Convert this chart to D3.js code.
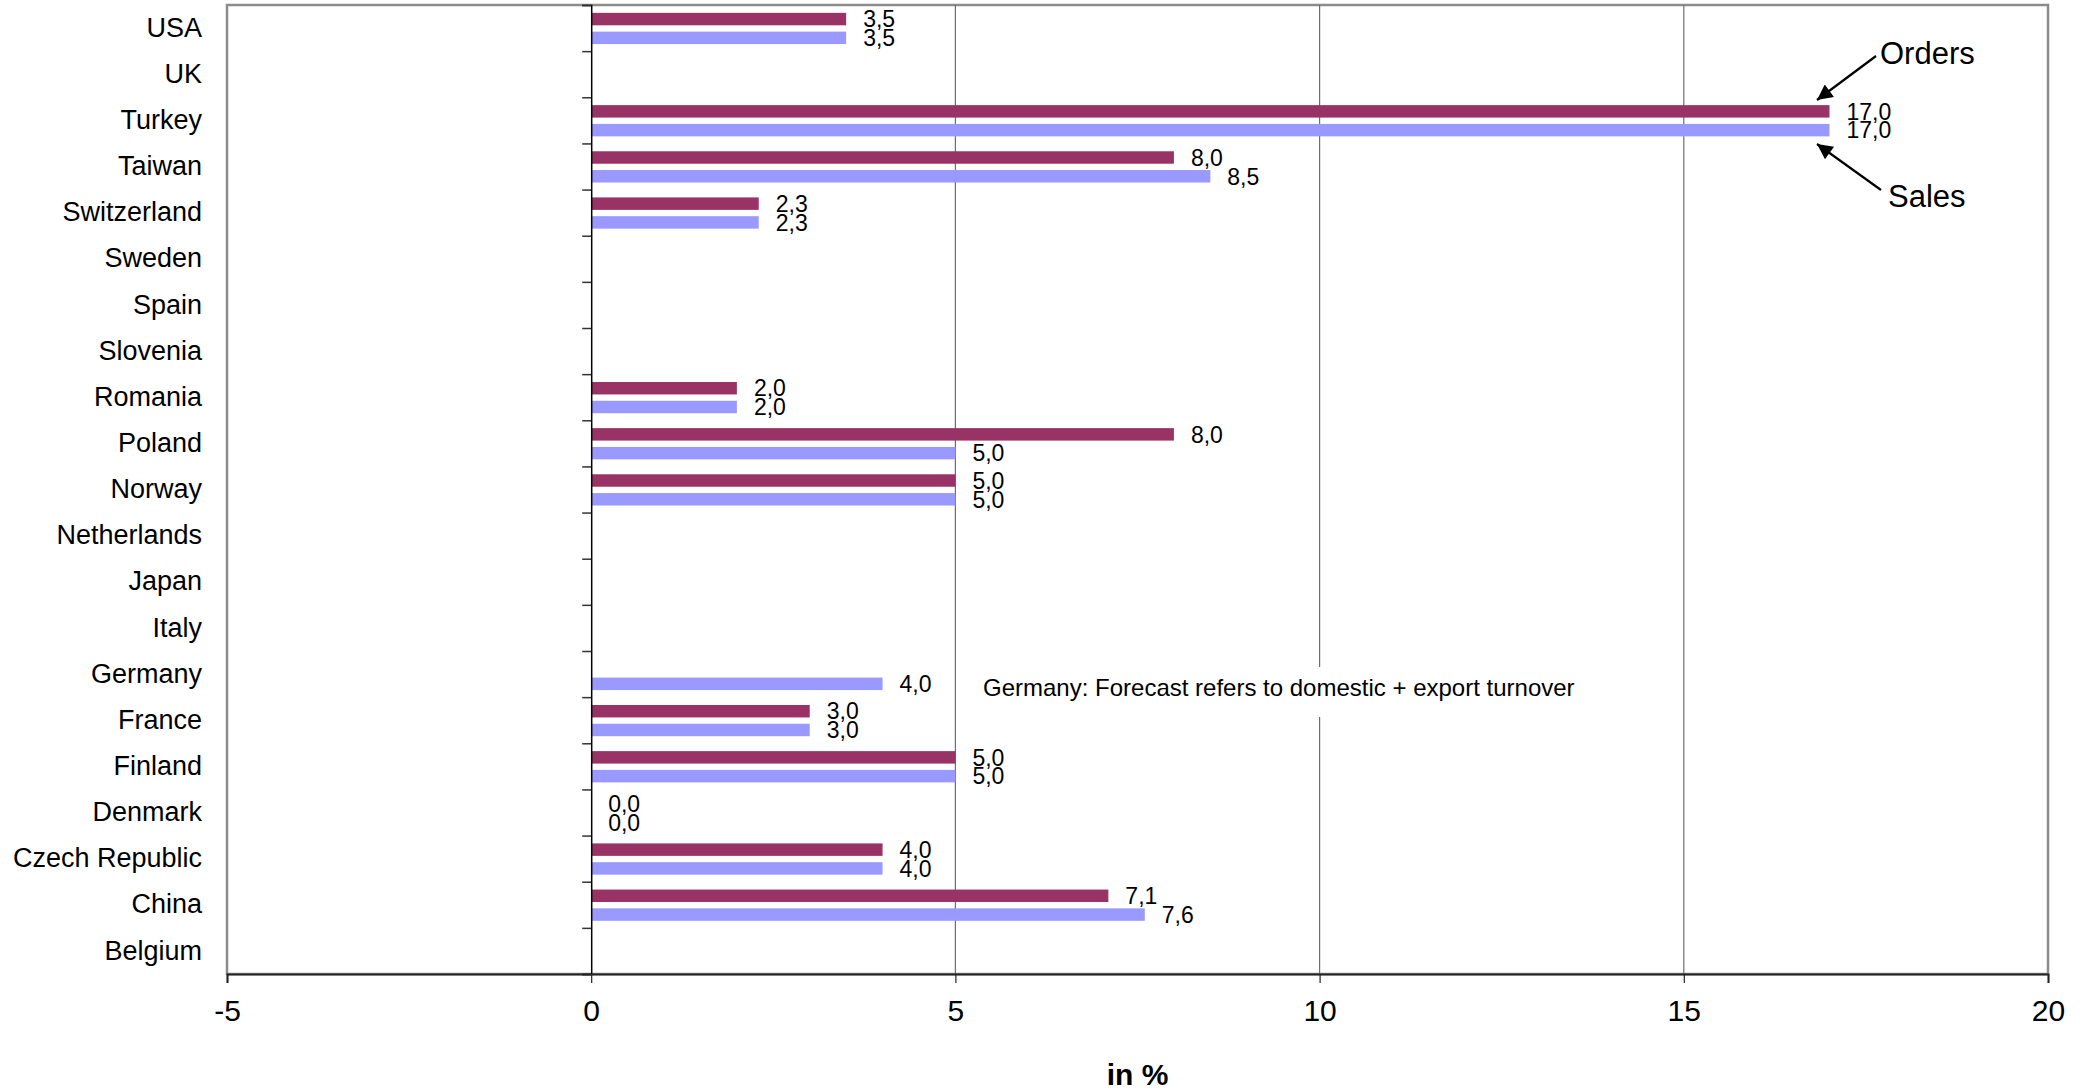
<!DOCTYPE html>
<html>
<head>
<meta charset="utf-8">
<script src="https://cdn.jsdelivr.net/npm/d3@7"></script>
<style>
  html, body { margin: 0; padding: 0; background: #fff; }
  svg { display: block; font-family: "Liberation Sans", Arial, sans-serif; }
</style>
</head>
<body>
<svg id="chart" width="2091" height="1092"></svg>
<script>
// Forecast growth by country, orders vs. sales (in %)
const countries = ["USA", "UK", "Turkey", "Taiwan", "Switzerland", "Sweden", "Spain", "Slovenia",
  "Romania", "Poland", "Norway", "Netherlands", "Japan", "Italy", "Germany", "France",
  "Finland", "Denmark", "Czech Republic", "China", "Belgium"];
const orders = [3.5, null, 17.0, 8.0, 2.3, null, null, null, 2.0, 8.0, 5.0, null, null, null,
  null, 3.0, 5.0, 0.0, 4.0, 7.1, null];
const sales = [3.5, null, 17.0, 8.5, 2.3, null, null, null, 2.0, 5.0, 5.0, null, null, null,
  4.0, 3.0, 5.0, 0.0, 4.0, 7.6, null];
const xTicks = [-5, 0, 5, 10, 15, 20];
const xDomain = [-5, 20];
const axisTitle = "in %";
const note = "Germany: Forecast refers to domestic + export turnover";
const seriesNames = ["Orders", "Sales"];
const colors = { Orders: "#993366", Sales: "#9999FF" };

const svg = d3.select("#chart");
const plot = { left: 227, right: 2048, top: 5, bottom: 974 };

const x = d3.scaleLinear().domain(xDomain).range([plot.left, plot.right]);
const y = d3.scaleBand().domain(countries).range([plot.top, plot.bottom]).padding(0);
const bw = y.bandwidth();
const barH = bw * 0.27;
const offsets = { Orders: bw * 0.17, Sales: bw * 0.577 };

const comma = d3.formatLocale({ decimal: ",", thousands: ".", grouping: [3], currency: ["", ""] }).format(".1f");

// plot frame
svg.append("rect")
  .attr("x", plot.left).attr("y", plot.top)
  .attr("width", plot.right - plot.left).attr("height", plot.bottom - plot.top)
  .attr("fill", "#fff").attr("stroke", "#8c8c8c").attr("stroke-width", 2.5);

// vertical gridlines
svg.append("g").selectAll("line")
  .data(xTicks.filter(t => t !== 0 && t !== xDomain[0] && t !== xDomain[1]))
  .join("line")
  .attr("x1", d => x(d)).attr("x2", d => x(d))
  .attr("y1", plot.top).attr("y2", plot.bottom)
  .attr("stroke", "#6e6e6e").attr("stroke-width", 1.2);

// note box (white background interrupts the gridline)
const noteG = svg.append("g");
noteG.append("rect")
  .attr("x", 975).attr("y", 667).attr("width", 620).attr("height", 50)
  .attr("fill", "#fff");
noteG.append("text")
  .attr("x", 983).attr("y", 696)
  .attr("font-size", 24).attr("fill", "#000")
  .text(note);

// bars
const rows = countries.map((c, i) => ({ country: c, Orders: orders[i], Sales: sales[i] }));
seriesNames.forEach(s => {
  const data = rows.filter(r => r[s] !== null);
  svg.append("g").selectAll("rect")
    .data(data)
    .join("rect")
    .attr("x", d => x(Math.min(0, d[s])))
    .attr("y", d => y(d.country) + offsets[s])
    .attr("width", d => Math.abs(x(d[s]) - x(0)))
    .attr("height", barH)
    .attr("fill", colors[s]);
  svg.append("g").selectAll("text")
    .data(data)
    .join("text")
    .attr("x", d => x(d[s]) + 17)
    .attr("y", d => y(d.country) + offsets[s] + barH / 2)
    .attr("dy", "0.36em")
    .attr("font-size", 23)
    .attr("fill", "#000")
    .text(d => comma(d[s]));
});

// zero axis with ticks at category boundaries
const idx = d3.scaleLinear().domain([0, countries.length]).range([plot.top, plot.bottom]);
const zeroAxis = svg.append("g")
  .attr("transform", `translate(${x(0)},0)`)
  .call(d3.axisLeft(idx).tickValues(d3.range(0, countries.length + 1)).tickSize(9).tickFormat(""));
zeroAxis.select(".domain").attr("stroke", "#000").attr("stroke-width", 1.5);
zeroAxis.selectAll(".tick line").attr("stroke", "#333").attr("stroke-width", 1.5);

// category labels
const catAxis = svg.append("g")
  .attr("transform", `translate(${plot.left},0)`)
  .call(d3.axisLeft(y).tickSize(0).tickPadding(25));
catAxis.select(".domain").remove();
catAxis.selectAll("text")
  .attr("font-size", 27).attr("fill", "#000")
  .attr("font-family", "Liberation Sans, Arial, sans-serif");

// x axis
const xAxis = svg.append("g")
  .attr("transform", `translate(0,${plot.bottom})`)
  .call(d3.axisBottom(x).tickValues(xTicks).tickSize(9).tickPadding(17).tickFormat(d => String(d)));
xAxis.select(".domain").attr("stroke", "#222").attr("stroke-width", 2);
xAxis.selectAll(".tick line").attr("stroke", "#222").attr("stroke-width", 1.2);
xAxis.selectAll("text")
  .attr("font-size", 30).attr("fill", "#000")
  .attr("font-family", "Liberation Sans, Arial, sans-serif");

// axis title
svg.append("text")
  .attr("x", (plot.left + plot.right) / 2).attr("y", 1085)
  .attr("text-anchor", "middle")
  .attr("font-size", 30).attr("font-weight", "bold")
  .text(axisTitle);

// series callouts with arrows
const defs = svg.append("defs");
defs.append("marker")
  .attr("id", "arrowhead")
  .attr("viewBox", "0 0 10 10")
  .attr("refX", 10).attr("refY", 5)
  .attr("markerWidth", 8).attr("markerHeight", 7)
  .attr("markerUnits", "strokeWidth")
  .attr("orient", "auto")
  .append("path").attr("d", "M0,0 L10,5 L0,10 Z").attr("fill", "#000");

const callouts = [
  { name: seriesNames[0], from: [1876, 56], to: [1817, 100], tx: 1880, ty: 64 },
  { name: seriesNames[1], from: [1881, 190], to: [1817, 144], tx: 1888, ty: 207 }
];
callouts.forEach(c => {
  svg.append("line")
    .attr("x1", c.from[0]).attr("y1", c.from[1])
    .attr("x2", c.to[0]).attr("y2", c.to[1])
    .attr("stroke", "#000").attr("stroke-width", 2.2)
    .attr("marker-end", "url(#arrowhead)");
  svg.append("text")
    .attr("x", c.tx).attr("y", c.ty)
    .attr("font-size", 31).attr("fill", "#000")
    .text(c.name);
});
</script>
</body>
</html>
